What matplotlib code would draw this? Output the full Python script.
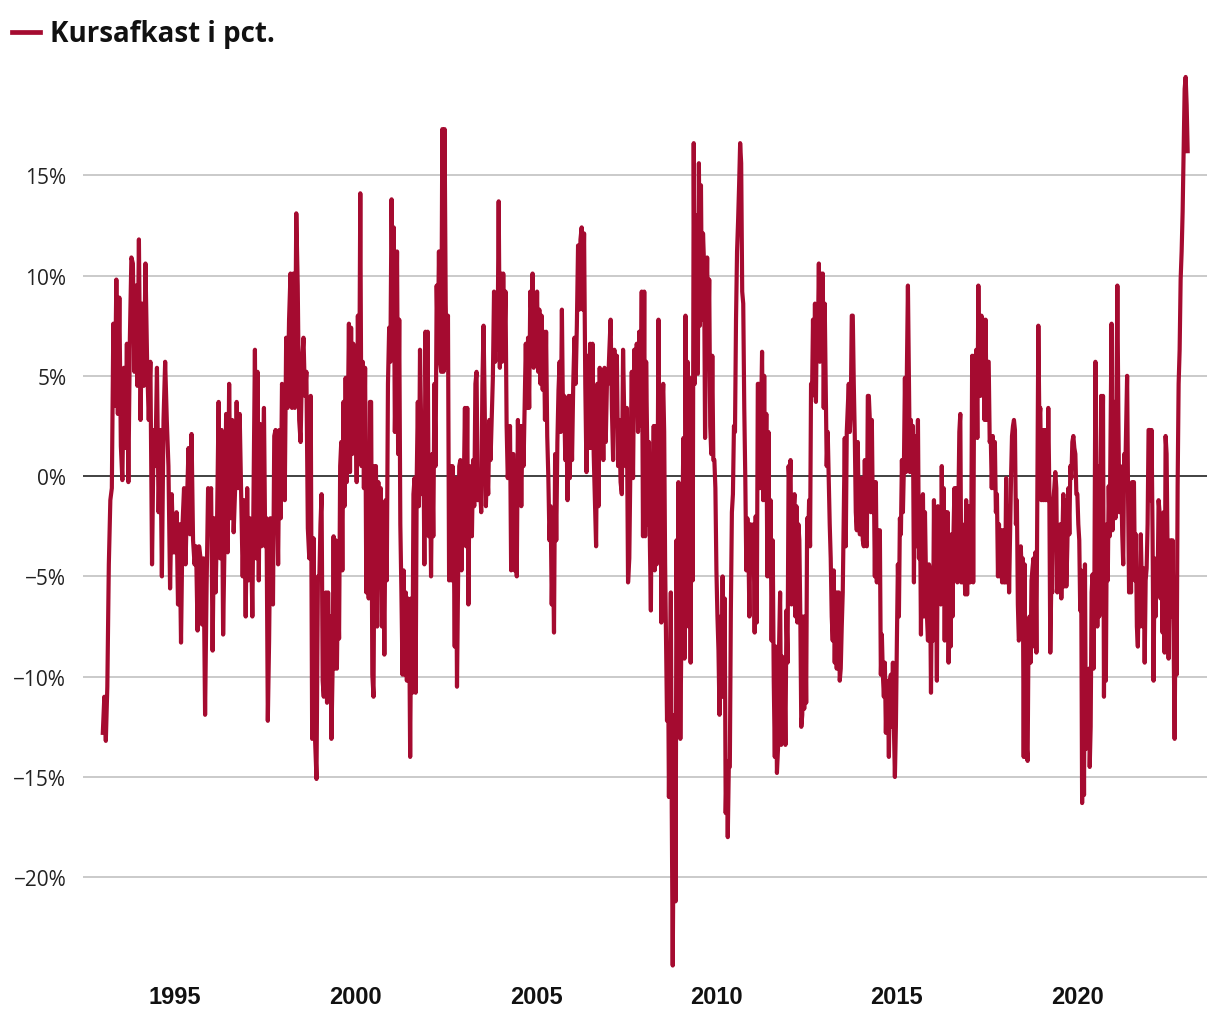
import numpy as np
import matplotlib
matplotlib.use("Agg")
import matplotlib.pyplot as plt
from matplotlib.lines import Line2D

# Kursafkast i pct., roughly twice a month
r1993 = [-12.8, -11.0, -13.2, -10.5, -4.4, -1.2, -0.6, 7.6, 3.5, 9.8, 3.1, 8.9, 1.5, -0.2,
         5.4, 1.4, 6.6, -0.3, 6.9, 10.9, 10.6, 5.2, 9.5, 4.5]
r1994 = [11.8, 2.8, 8.6, 4.5, 10.6, 5.7, 2.8, 5.7, -4.4, 2.3, 0.5, 5.4, -1.8, 2.3, -5.0, 2.8,
         5.7, 2.8, 0.5, -5.6, -0.9, -3.8]
r1995 = [-3.8, -1.8, -6.4, -2.4, -8.3, -2.4, -0.6, -4.4, -1.2, 1.4, -2.9, 2.1, -3.2, -4.4,
         -3.5, -7.7, -3.5, -4.1, -7.4, -4.1, -11.9, -5.5, -0.6, -1.5]
r1996 = [-0.6, -8.7, -2.1, -5.8, -2.1, 3.7, -4.1, 2.3, -7.9, -3.0, 3.1, -3.8, 4.6, -2.1, 2.8,
         -2.8, -0.6, 3.7, -0.6, 3.1, -0.9, -5.0, -1.2, -7.0]
r1997 = [-0.6, -5.2, -2.1, -3.3, -7.0, -0.2, 6.3, -4.1, 5.2, -5.2, 2.6, -3.5, -0.1, 3.4, -3.5,
         -2.1, -12.2, -8.2, -2.1, -2.4, -6.4, 2.0, 2.3, -0.1, -4.4, 2.3, -2.1, 4.6]
r1998 = [3.7, -1.2, 6.9, 3.4, 7.8, 10.1, 3.4, 10.1, 3.4, 13.1, 9.5, 2.8, 1.7, 5.7, 6.9, 4.0,
         5.2, -2.6, -4.1, 4.0, -13.1, -3.1, -13.1, -15.1, -5.0]
r1999 = [-5.0, -2.4, -0.9, -10.2, -11.0, -8.0, -5.8, -11.3, -5.8, -9.9, -7.0, -13.1, -9.9,
         -3.0, -9.6, -3.2, -9.6, -5.2, -8.1, 0.5, 1.7, -4.7, 3.7, -1.5, 4.9, -0.3, 2.8, 7.6,
         0.2, 7.4, 1.1, 6.6, 1.9]
r2000 = [4.3, -0.3, 8.0, 2.2, 14.1, 0.5, 5.7, -0.6, 5.4, -5.8, -2.7, -6.1, 3.7, 3.7, -9.9,
         -11.0, 0.5, 0.5, -7.5, -0.3, -5.0, -0.6, -7.5, -3.2, -8.9, -1.2, -5.2, 4.6, 7.4, 5.7]
r2001 = [13.8, 8.4, 12.4, 2.2, 5.7, 11.2, 1.1, 7.8, -2.4, -5.8, -9.9, -4.7, -9.9, -5.8, -10.2,
         -6.1, -6.4, -14.0, -6.1, -10.8, -0.9, -0.1, -10.8, -0.1, 3.7, -1.5, 6.3, 2.8, -0.9,
         2.2, -4.4, 7.2, 1.9]
r2002 = [7.2, -3.0, 0.8, -5.0, 1.1, -3.0, 4.6, 0.5, 9.5, 6.3, 11.2, 5.7, 5.2, 17.3, 5.2, 17.3,
         8.6, 5.4, 8.0, -5.2, 0.5, -5.2, 0.5, -2.4, -8.5, -0.1, -10.5, -5.0, 0.5, 0.8, -4.7, -0.6]
r2003 = [-0.6, 3.4, -3.5, 3.4, -6.4, 0.5, -0.1, -3.0, 0.8, -1.5, 4.6, 5.2, -1.2, -0.1, -0.6,
         -1.8, 4.6, 7.5, 3.4, -1.5, 0.5, -0.9, 2.8, 0.8, 2.8, 4.9, 9.2, 5.7, 8.9, 6.3, 13.7]
r2004 = [5.4, 10.1, 5.7, 10.1, 6.3, 9.2, 2.5, -0.1, 0.8, 2.5, -4.7, 1.1, 1.1, -4.7, -1.2, -5.0,
         2.8, -1.2, 2.5, -1.5, 2.5, 0.5, 3.7, 6.6, 3.4, 6.9, 3.4, 9.2, 8.0, 10.1, 5.4, 8.9]
r2005 = [6.0, 9.2, 5.2, 8.3, 4.6, 8.0, 4.3, 7.2, 2.8, 7.2, 2.0, -0.1, -3.2, -1.5, -6.4, -3.2,
         -7.8, 1.1, -3.2, 1.7, 4.3, 5.7, 2.2, 8.3, 2.8, 4.0, 0.8, 2.8, -1.2, 4.0, -0.1, 4.0]
r2006 = [0.8, 4.6, 6.9, 4.6, 7.5, 11.5, 8.3, 11.8, 12.4, 8.3, 12.1, 4.6, 0.2, 6.0, 1.4, 6.6,
         1.4, 6.6, 1.1, -1.2, -3.5, 4.6, -1.5, 5.4, 1.7, 4.6, 0.8, 5.4, 1.7, 4.6]
r2007 = [4.6, 6.3, 7.8, 3.4, 0.8, 6.3, 2.8, 6.0, 0.5, 2.8, -0.3, -0.9, 6.3, 2.8, 0.5, 3.4,
         -5.3, -4.1, 1.1, 5.2, -0.1, 6.3, 3.4, 6.6, 2.2, 7.2, 2.5, 9.2, -3.0]
r2008 = [9.2, -3.0, 5.7, 2.0, -2.4, 1.7, -3.5, -6.7, 0.5, -1.8, 2.5, -4.7, 2.5, -4.4, -1.2,
         7.8, -2.4, 2.8, -7.3, 3.4, 4.6, 2.2, -4.4, -8.1, -12.2, -8.4, -16.0, -10.2, -5.8,
         -16.8, -24.4, -16.8, -11.9, -21.2, -3.2, -11.6, -0.3, -7.0]
r2009 = [-13.1, -8.1, -2.1, 1.9, -9.1, 8.0, -1.8, 5.7, -7.5, 4.9, -9.3, 4.6, -5.2, 16.6, 4.6,
         13.0, 5.2, 5.1, 15.6, 7.5, 14.5, 7.8, 12.1, 10.6, 1.9, 7.8, 10.9, 6.3, 9.8, 2.5, 1.1,
         6.0, 0.8, 0.8, -0.6]
r2010 = [-4.7, -7.0, -8.7, -11.9, -7.0, -11.0, -5.0, -11.0, -6.1, -16.8, -14.2, -18.0, -14.5,
         -14.5, -6.7, -1.8, -0.9, 2.5, 2.2, 7.8, 11.2, 12.7, 14.5, 16.6, 15.6, 9.2, 8.6, 3.4,
         -0.1, -4.7, -2.1, -3.5, -7.0, -2.4, -3.2]
r2011 = [-3.2, -2.4, -7.8, -2.0, -7.3, 4.6, 4.6, -0.6, 2.8, 6.2, -1.2, 5.0, -1.2, 3.1, -5.0,
         2.2, -5.0, -1.2, -8.2, -3.2, -10.2, -14.0, -8.5, -14.8, -13.6, -8.5, -5.8, -13.4,
         -9.0, -12.9, -9.6, -13.4, -6.7, -9.3]
r2012 = [0.5, -0.6, 0.8, -6.4, -4.4, -1.8, -0.9, -7.0, -1.5, -7.3, -2.4, -3.2, -7.0, -12.5,
         -11.9, -7.0, -11.6, -7.0, -11.3, -2.1, -3.5, -1.2, -3.5, 4.6, 4.0, 7.8, 4.3, 8.6, 3.7,
         8.3, 6.9, 10.6, 5.7, 10.1, 6.3, 10.1, 3.4]
r2013 = [8.6, 4.6, 0.5, 2.2, -0.1, -2.4, -4.1, -7.0, -8.2, -4.7, -9.3, -5.8, -9.6, -5.8, -5.8,
         -10.2, -9.6, -7.5, -5.8, -2.1, 1.9, -3.5, 2.2, 3.4, 4.6, 2.2, 3.4, 8.0, 8.0, 4.6, 2.0,
         -1.8, -2.7, 1.7, -2.4, -2.9]
r2014 = [-2.9, -0.1, -3.2, -3.5, 0.8, -3.2, -3.5, 4.0, 4.0, 2.8, -1.8, 2.8, -1.8, -0.3, -5.0,
         -0.3, -5.3, -2.7, -5.3, -2.7, -9.9, -7.9, -9.9, -11.0, -9.3, -12.8, -10.2, -10.8,
         -14.0, -10.2, -9.9, -12.5, -9.3, -12.5, -15.0, -12.5]
r2015 = [-8.2, -4.4, -7.0, -2.1, -2.9, 0.8, -1.8, 0.5, 4.9, 0.2, 5.4, 9.5, 4.6, 0.2, 2.8, 0.2,
         2.5, -5.3, 2.0, -3.5, -0.1, 2.8, -4.1, -1.2, -7.9, -1.2, -0.9, -7.0, -1.8, -5.0, -7.0,
         -8.2, -4.4, -4.7, -10.8, -4.7]
r2016 = [-8.2, -1.2, -7.6, -4.7, -10.2, -1.5, -4.4, -1.8, -6.4, 0.5, -5.3, -0.6, -8.2, -1.8,
         -6.7, -1.8, -9.3, -4.7, -8.5, -2.9, -7.0, -2.9, -0.6, -4.7, -0.6, -5.3, -1.5, 2.2, 3.1,
         -5.3, -2.4, -5.3, -3.8, -5.9, -1.2, -5.9, -1.5]
r2017 = [-1.5, -5.3, -3.8, 6.0, -5.3, 6.0, 2.3, 6.3, 1.9, 9.5, 4.0, 4.0, 8.0, 6.3, 7.8, 2.8,
         7.8, 2.8, 5.7, 5.7, 1.7, 2.0, -0.6, 2.0, -0.6, 1.7, -1.8, -0.9, -5.0, -2.4, -5.0, -2.7,
         -5.3, -2.7, -5.3]
r2018 = [-5.3, -0.1, -5.3, -1.5, -5.8, -3.0, -0.1, 2.0, 2.5, 2.8, 2.3, -2.4, -1.2, -6.4, -8.2,
         -7.9, -3.5, -5.0, -4.1, -14.0, -4.4, -14.0, -13.4, -14.2, -7.5, -7.0, -9.3, -5.2, -4.6,
         -4.1, -8.5, -3.8, -8.8, -0.5, 7.5, 2.8, 3.4]
r2019 = [-1.2, 2.3, -1.2, 2.3, -1.2, 2.3, -1.2, 3.4, -0.6, -8.8, -5.3, -5.8, -1.2, -0.6, 0.2,
         -0.6, -5.8, -3.2, -5.2, -2.4, -6.1, -3.2, -0.9, -5.5, -1.2, -5.5, -3.5, -0.6, -2.9,
         0.5, -0.1, 1.7, 2.0, 1.4, 1.1, -0.9]
r2020 = [-0.9, -2.4, -3.2, -6.7, -4.7, -16.3, -8.2, -15.9, -4.4, -13.6, -13.4, -11.0, -9.6,
         -14.5, -12.5, -5.8, -4.9, -9.6, -4.7, 5.7, -0.2, -7.5, 0.5, -7.0, -3.5, 4.0, -0.6, 4.0,
         -11.0, -3.5, -10.2, -2.4, -5.2, -0.5, -3.0, 2.3, 7.6, -2.7]
r2021 = [2.3, 3.7, -2.1, 4.0, 9.5, 3.1, -1.8, 0.5, -0.1, -2.9, -4.4, 1.1, -0.1, 2.5, 5.0, -1.2,
         -5.8, -1.8, -5.8, -0.3, -1.8, -0.3, -5.2, -2.9, -7.5, -8.5, -5.2, -7.5, -2.9, -5.2,
         -7.5, -4.6, -9.3, -5.2, -4.6, -2.4, 2.3]
r2022 = [2.3, -1.2, 2.3, -2.9, -10.2, -4.1, -7.0, -4.7, -5.8, -1.2, -1.8, -6.1, -2.4, -7.8,
         -1.8, -8.8, 2.0, 1.1, -4.1, -9.1, -4.7, -3.2, -7.0, -3.2, -8.2, -13.1, -6.1, -9.9,
         -0.5, 4.6, 6.3, 9.8, 11.2, 13.2, 16.4, 19.3]
r2023 = [19.9, 18.5, 16.2]

years = list(range(1993, 2024))
series = [r1993, r1994, r1995, r1996, r1997, r1998, r1999, r2000, r2001, r2002, r2003,
          r2004, r2005, r2006, r2007, r2008, r2009, r2010, r2011, r2012, r2013, r2014,
          r2015, r2016, r2017, r2018, r2019, r2020, r2021, r2022, r2023]

yticks = [-20, -15, -10, -5, 0, 5, 10, 15]
ytick_labels = ["\u221220%", "\u221215%", "\u221210%", "\u22125%", "0%", "5%", "10%", "15%"]
xticks = [1995, 2000, 2005, 2010, 2015, 2020]

# dates: each year's readings spread evenly over that year
x = []
y = []
for yr, vals in zip(years, series):
    n = len(vals)
    if yr == 2023:
        n = 36
    for i, v in enumerate(vals):
        x.append(yr + i / n)
        y.append(v)

red = "#a50b30"

fig = plt.figure(figsize=(12.2, 10.2), dpi=100)
ax = fig.add_axes([0.068, 0.0485, 0.9213, 0.879])

ax.plot(x, y, color=red, lw=3.0, zorder=3)

ax.set_xlim(1992.45, 2023.59)
ax.set_ylim(-24.6, 20.1)

ax.set_yticks(yticks)
ax.set_yticklabels(ytick_labels, fontname="Open Sans", fontsize=15, color="#222222")
ax.set_xticks(xticks)
ax.set_xticklabels([str(t) for t in xticks], fontname="Liberation Sans", fontweight="bold",
                   fontsize=17, color="#111111")
ax.tick_params(axis="y", length=0, pad=12)
ax.tick_params(axis="x", length=0, pad=11)

for t in yticks:
    if t == 0:
        ax.axhline(0, color="#333333", lw=1.3, zorder=2)
    else:
        ax.axhline(t, color="#c6c6c6", lw=1.3, zorder=1)

for s in ax.spines.values():
    s.set_visible(False)

# legend drawn at the top left of the figure
fig.add_artist(Line2D([12 / 1220, 40 / 1220], [1 - 33 / 1020, 1 - 33 / 1020],
                      transform=fig.transFigure, color=red, lw=3.4))
fig.text(50 / 1220, 1 - 42 / 1020, "Kursafkast i pct.", family="Open Sans",
         fontweight="bold", fontsize=20, va="baseline", ha="left", color="#111111")

fig.savefig("out.png", dpi=100, facecolor="white")
